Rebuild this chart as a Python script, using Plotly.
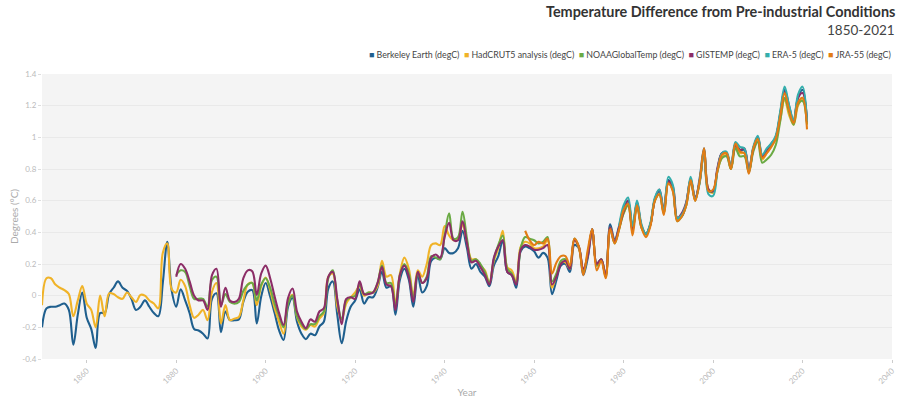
import plotly.graph_objects as go

years_long = list(range(1850, 2022))
years_noaa = list(range(1880, 2022))
years_jra = list(range(1958, 2022))
years_era = list(range(1979, 2022))

berkeley = [
    -0.20, -0.08, -0.07, -0.07, -0.06, -0.05, -0.09, -0.31, -0.12, 0.02,
    -0.14, -0.21, -0.33, -0.11, -0.11, 0.01, 0.05, 0.09, 0.05, 0.03,
    -0.02, -0.09, -0.07, -0.03, -0.07, -0.11, -0.13, 0.08, 0.34, 0.03,
    -0.07, 0.04, -0.03, -0.11, -0.21, -0.22, -0.24, -0.27, -0.02, 0.015,
    -0.23, -0.10, -0.155, -0.155, -0.15, -0.04, 0.025, 0.035, -0.175, -0.005,
    0.08, -0.005, -0.11, -0.22, -0.28, -0.07, -0.015, -0.165, -0.24, -0.275,
    -0.24, -0.25, -0.195, -0.165, 0.045, 0.09, -0.12, -0.30, -0.16, -0.07,
    -0.03, 0.04, -0.05, -0.01, -0.01, 0.05, 0.15, 0.05, 0.06, -0.12,
    0.10, 0.17, 0.10, -0.07, 0.13, 0.02, 0.06, 0.22, 0.24, 0.23,
    0.30, 0.27, 0.27, 0.30, 0.41, 0.30, 0.17, 0.20, 0.15, 0.12,
    0.06, 0.19, 0.25, 0.35, 0.15, 0.13, 0.05, 0.28, 0.31, 0.30,
    0.28, 0.24, 0.27, 0.24, 0.01, 0.10, 0.19, 0.20, 0.15, 0.32,
    0.30, 0.13, 0.24, 0.42, 0.20, 0.23, 0.13, 0.45, 0.35, 0.44,
    0.55, 0.60, 0.43, 0.59, 0.44, 0.39, 0.45, 0.61, 0.66, 0.53,
    0.73, 0.68, 0.49, 0.50, 0.58, 0.74, 0.60, 0.74, 0.93, 0.67,
    0.66, 0.80, 0.90, 0.90, 0.80, 0.96, 0.92, 0.92, 0.78, 0.93,
    1.00, 0.88, 0.92, 0.96, 1.00, 1.15, 1.30, 1.20, 1.10, 1.25,
    1.30, 1.10,
]

hadcrut = [
    -0.06, 0.11, 0.11, 0.07, 0.05, 0.035, 0.01, -0.13, -0.03, 0.06,
    -0.05, -0.09, -0.20, 0.00, -0.13, 0.015, 0.01, -0.01, -0.02, 0.02,
    -0.01, -0.04, 0.005, 0.00, -0.03, -0.05, -0.08, 0.27, 0.33, 0.04,
    0.02, 0.10, 0.06, -0.06, -0.14, -0.12, -0.09, -0.155, 0.025, 0.08,
    -0.175, -0.06, -0.155, -0.145, -0.135, -0.03, 0.07, 0.08, -0.06, 0.06,
    0.115, 0.035, -0.08, -0.165, -0.24, -0.04, 0.005, -0.135, -0.195, -0.215,
    -0.185, -0.195, -0.145, -0.11, 0.12, 0.14, -0.07, -0.15, -0.05, -0.01,
    0.02, 0.06, 0.00, 0.02, 0.02, 0.06, 0.22, 0.12, 0.13, -0.05,
    0.14, 0.24, 0.17, 0.00, 0.16, 0.12, 0.20, 0.32, 0.33, 0.32,
    0.44, 0.38, 0.35, 0.36, 0.45, 0.34, 0.23, 0.23, 0.19, 0.16,
    0.08, 0.22, 0.30, 0.41, 0.18, 0.16, 0.09, 0.31, 0.34, 0.33,
    0.30, 0.30, 0.31, 0.35, 0.05, 0.13, 0.21, 0.21, 0.17, 0.35,
    0.30, 0.16, 0.27, 0.41, 0.19, 0.23, 0.12, 0.43, 0.34, 0.42,
    0.52, 0.57, 0.42, 0.58, 0.43, 0.38, 0.45, 0.60, 0.64, 0.52,
    0.71, 0.67, 0.48, 0.51, 0.57, 0.72, 0.60, 0.72, 0.92, 0.67,
    0.65, 0.79, 0.87, 0.89, 0.80, 0.94, 0.90, 0.90, 0.79, 0.92,
    0.98, 0.86, 0.90, 0.94, 0.99, 1.11, 1.24, 1.14, 1.08, 1.20,
    1.24, 1.09,
]

noaa = [
    0.13, 0.16, 0.15, 0.06, -0.02, -0.02, -0.02, -0.07, 0.10, 0.12,
    -0.06, 0.01, -0.04, -0.05, -0.04, 0.03, 0.07, 0.08, -0.03, 0.07,
    0.11, 0.05, -0.05, -0.13, -0.20, -0.05, 0.00, -0.13, -0.18, -0.21,
    -0.18, -0.18, -0.13, -0.10, 0.11, 0.16, -0.03, -0.15, -0.03, -0.01,
    0.00, 0.07, 0.01, 0.02, 0.02, 0.08, 0.19, 0.08, 0.08, -0.07,
    0.13, 0.20, 0.14, -0.02, 0.14, 0.08, 0.12, 0.25, 0.24, 0.23,
    0.38, 0.52, 0.36, 0.37, 0.53, 0.36, 0.22, 0.23, 0.20, 0.15,
    0.08, 0.23, 0.32, 0.38, 0.17, 0.14, 0.08, 0.30, 0.37, 0.36,
    0.35, 0.33, 0.34, 0.37, 0.09, 0.14, 0.22, 0.23, 0.17, 0.36,
    0.31, 0.15, 0.26, 0.42, 0.19, 0.23, 0.12, 0.42, 0.33, 0.42,
    0.52, 0.57, 0.41, 0.57, 0.43, 0.39, 0.45, 0.60, 0.64, 0.52,
    0.71, 0.67, 0.47, 0.50, 0.57, 0.72, 0.61, 0.72, 0.91, 0.66,
    0.66, 0.79, 0.87, 0.88, 0.80, 0.93, 0.88, 0.88, 0.78, 0.91,
    0.97, 0.84, 0.86, 0.89, 0.95, 1.10, 1.25, 1.16, 1.08, 1.21,
    1.23, 1.08,
]

gistemp = [
    0.12, 0.20, 0.17, 0.09, 0.00, -0.03, -0.03, -0.09, 0.13, 0.17,
    -0.07, 0.05, -0.03, -0.04, -0.02, 0.11, 0.16, 0.155, 0.005, 0.14,
    0.19, 0.11, -0.005, -0.11, -0.185, -0.015, 0.045, -0.10, -0.165, -0.205,
    -0.15, -0.165, -0.10, -0.08, 0.12, 0.15, -0.02, -0.18, -0.02, -0.01,
    -0.02, 0.09, 0.01, 0.01, 0.02, 0.08, 0.18, 0.07, 0.06, -0.09,
    0.13, 0.19, 0.12, -0.04, 0.15, 0.08, 0.11, 0.24, 0.26, 0.24,
    0.37, 0.46, 0.35, 0.35, 0.47, 0.33, 0.21, 0.22, 0.18, 0.13,
    0.07, 0.24, 0.31, 0.35, 0.15, 0.13, 0.07, 0.29, 0.32, 0.31,
    0.29, 0.29, 0.30, 0.32, 0.07, 0.12, 0.20, 0.22, 0.17, 0.35,
    0.31, 0.17, 0.25, 0.42, 0.20, 0.23, 0.13, 0.43, 0.34, 0.43,
    0.53, 0.60, 0.41, 0.59, 0.44, 0.39, 0.45, 0.61, 0.67, 0.54,
    0.72, 0.69, 0.49, 0.52, 0.59, 0.73, 0.62, 0.72, 0.92, 0.67,
    0.66, 0.81, 0.90, 0.90, 0.82, 0.95, 0.92, 0.93, 0.80, 0.93,
    1.00, 0.88, 0.92, 0.95, 1.00, 1.14, 1.29, 1.18, 1.10, 1.25,
    1.28, 1.10,
]

era5 = [
    0.44, 0.57, 0.62, 0.44, 0.60, 0.45, 0.39, 0.46, 0.62, 0.67,
    0.53, 0.75, 0.70, 0.49, 0.51, 0.58, 0.75, 0.61, 0.71, 0.92,
    0.64, 0.63, 0.79, 0.90, 0.91, 0.81, 0.97, 0.94, 0.93, 0.78,
    0.94, 1.01, 0.89, 0.93, 0.96, 1.01, 1.16, 1.32, 1.20, 1.11,
    1.27, 1.32, 1.10,
]

jra55 = [
    0.41, 0.35, 0.32, 0.34, 0.33, 0.36, 0.14, 0.21, 0.25, 0.25,
    0.19, 0.36, 0.31, 0.13, 0.29, 0.42, 0.16, 0.22, 0.11, 0.42,
    0.33, 0.42, 0.54, 0.58, 0.38, 0.57, 0.43, 0.37, 0.44, 0.60,
    0.64, 0.51, 0.71, 0.66, 0.47, 0.50, 0.57, 0.73, 0.60, 0.72,
    0.93, 0.66, 0.67, 0.79, 0.89, 0.90, 0.80, 0.96, 0.91, 0.90,
    0.77, 0.93, 0.99, 0.87, 0.90, 0.94, 0.99, 1.13, 1.28, 1.17,
    1.09, 1.22, 1.25, 1.05,
]

y_tickvals = [-0.4, -0.2, 0, 0.2, 0.4, 0.6, 0.8, 1, 1.2, 1.4]
y_ticktext = ["-0.4", "-0.2", "0", "0.2", "0.4", "0.6", "0.8", "1", "1.2", "1.4"]

series = [
    ("Berkeley Earth (degC)", years_long, berkeley, "#1f5f8e"),
    ("HadCRUT5 analysis (degC)", years_long, hadcrut, "#f0b328"),
    ("NOAAGlobalTemp (degC)", years_noaa, noaa, "#6aaa44"),
    ("GISTEMP (degC)", years_noaa, gistemp, "#8c2d67"),
    ("ERA-5 (degC)", years_era, era5, "#34aeac"),
    ("JRA-55 (degC)", years_jra, jra55, "#e27c14"),
]

font_family = "Lato, 'Open Sans', sans-serif"
fig = go.Figure()
for name, xs, ys, color in series:
    fig.add_trace(go.Scatter(
        x=xs, y=ys, mode="lines", name=name,
        line=dict(color=color, width=2.1, shape="spline", smoothing=1),
        hovertemplate="%{x}: %{y}<extra>" + name + "</extra>",
    ))

# legend drawn as one right-aligned line of text with coloured squares
legend_text = "&nbsp;&nbsp;".join(
    '<span style="color:%s">■</span> %s' % (color, name)
    for name, _, _, color in series
)

fig.update_layout(
    width=900, height=398,
    margin=dict(l=42, r=8, t=74, b=39, autoexpand=False),
    paper_bgcolor="white",
    plot_bgcolor="#f4f4f4",
    font=dict(family=font_family, color="#555"),
    showlegend=False,
    annotations=[
        dict(text="<b>Temperature Difference from Pre-industrial Conditions</b>",
             xref="paper", yref="paper", x=1.0, y=1.218, xanchor="right",
             yanchor="middle", showarrow=False, xshift=5,
             font=dict(size=14.4, color="#333", family=font_family)),
        dict(text="1850-2021",
             xref="paper", yref="paper", x=1.0, y=1.154, xanchor="right",
             yanchor="middle", showarrow=False, xshift=5,
             font=dict(size=13.5, color="#444", family=font_family)),
        dict(text=legend_text,
             xref="paper", yref="paper", x=1.0, y=1.07, xanchor="right",
             yanchor="middle", showarrow=False, xshift=1,
             font=dict(size=8.8, color="#444", family=font_family)),
    ],
)

fig.update_xaxes(
    range=[1850, 2040], tick0=1860, dtick=20, tickangle=-45,
    automargin=False,
    showgrid=False, zeroline=False, showline=False,
    ticks="outside", ticklen=3, tickcolor="#ccc",
    tickfont=dict(size=8, color="#bbb"),
    title=dict(text="Year", font=dict(size=10, color="#aaa"), standoff=31),
)
fig.update_yaxes(
    range=[-0.4, 1.4], tickvals=y_tickvals, ticktext=y_ticktext,
    automargin=False,
    showgrid=True, gridcolor="#e9e9e9",
    gridwidth=1, zeroline=False, showline=False,
    ticks="outside", ticklen=3, tickcolor="#ddd",
    tickfont=dict(size=8, color="#bbb"),
    title=dict(text="Degrees (°C)", font=dict(size=10, color="#aaa"), standoff=1),
)

# remove the browser's default 8px page margin so the 900x398 figure fills the window
fig.write_html(
    "out.html",
    config={"displayModeBar": False},
    post_script="document.body.style.margin='0';document.body.style.overflow='hidden';",
)
